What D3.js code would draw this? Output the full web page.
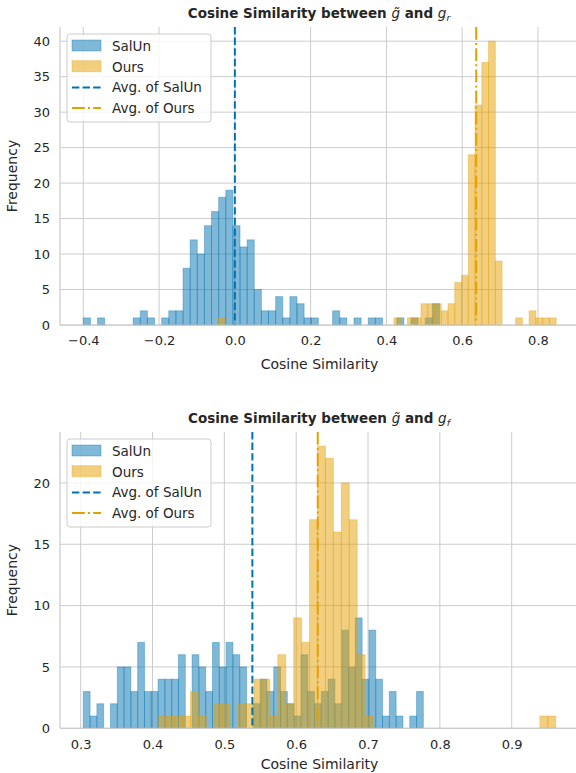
<!DOCTYPE html>
<meta charset="utf-8">
<script src="https://d3js.org/d3.v7.min.js"></script>
<style>
  body { margin: 0; background: #fff; }
  text { font-family: "DejaVu Sans", sans-serif; fill: #262626; }
</style>
<div id="chart"></div>
<script>

// ---- data ----
// histogram counts, 50 equal bins over each series' own range
var topSalunRange = [-0.400, 0.540];
var topSalunCounts = [1,0,1,0,0,0,0,1,2,1, 0,1,2,2,8,12,10,14,16,18, 19,14,11,12,5,2,2,4,1,4, 3,1,1,0,0,2,1,0,1,0, 1,1,0,0,1,0,1,0,1,3];
var topOursRange = [-0.044, 0.848];
var topOursCounts = [1,0,0,0,0,0,0,0,0,0, 0,0,0,0,0,0,0,0,0,0, 0,0,0,0,0,0,1,0,1,1, 3,3,3,2,3,6,7,24,31,37, 40,9,0,0,1,0,2,1,1,1];
var topMeans = [0.000, 0.637];

var botSalunRange = [0.3036, 0.777];
var botSalunCounts = [3,1,2,0,2,5,5,3,7,3, 3,4,4,4,6,0,6,5,3,7, 5,7,6,5,0,2,4,3,5,3, 2,1,6,3,2,3,4,2,8,5, 9,4,8,4,1,3,1,0,1,3];
var botOursRange = [0.4086, 0.9613];
var botOursCounts = [1,1,1,1,3,1,0,2,2,0, 2,2,4,4,1,6,2,9,7,17, 23,22,16,20,17,6,1,0,0,0, 0,0,0,0,0,0,0,0,0,0, 0,0,0,0,0,0,0,0,1,1];
var botMeans = [0.539, 0.630];

var topXTicks = [-0.4, -0.2, 0.0, 0.2, 0.4, 0.6, 0.8];
var topYTicks = [0, 5, 10, 15, 20, 25, 30, 35, 40];
var botXTicks = [0.3, 0.4, 0.5, 0.6, 0.7, 0.8, 0.9];
var botYTicks = [0, 5, 10, 15, 20];

var seriesNames = ["SalUn", "Ours"];
var blue = "#0173b2", orange = "#e69f00";

// ---- drawing ----
var W = 576, H = 773;
var svg = d3.select("#chart").append("svg")
    .attr("width", W).attr("height", H);

function bins(range, counts) {
    var n = counts.length, step = (range[1] - range[0]) / n;
    return counts.map(function(c, i) {
        return {x0: range[0] + i * step, x1: range[0] + (i + 1) * step, n: c};
    });
}

function panel(opt) {
    var g = svg.append("g");
    var x = d3.scaleLinear().domain(opt.xDomain).range([opt.left, opt.right]);
    var y = d3.scaleLinear().domain(opt.yDomain).range([opt.bottom, opt.top]);

    // grid
    g.selectAll(".vg").data(opt.xTicks).enter().append("line")
        .attr("x1", function(d) { return x(d); }).attr("x2", function(d) { return x(d); })
        .attr("y1", opt.top).attr("y2", opt.bottom)
        .attr("stroke", "#cccccc").attr("stroke-width", 1);
    g.selectAll(".hg").data(opt.yTicks).enter().append("line")
        .attr("x1", opt.left).attr("x2", opt.right)
        .attr("y1", function(d) { return y(d); }).attr("y2", function(d) { return y(d); })
        .attr("stroke", "#cccccc").attr("stroke-width", 1);

    // bars
    [[opt.salun, blue], [opt.ours, orange]].forEach(function(s) {
        g.append("g").selectAll("rect").data(s[0].filter(function(b) { return b.n > 0; }))
            .enter().append("rect")
            .attr("x", function(b) { return x(b.x0); })
            .attr("width", function(b) { return x(b.x1) - x(b.x0); })
            .attr("y", function(b) { return y(b.n); })
            .attr("height", function(b) { return y(0) - y(b.n); })
            .attr("fill", s[1]).attr("fill-opacity", 0.5)
            .attr("stroke", s[1]).attr("stroke-opacity", 0.35).attr("stroke-width", 1);
    });

    // mean lines
    g.append("line").attr("x1", x(opt.means[0])).attr("x2", x(opt.means[0]))
        .attr("y1", opt.top).attr("y2", opt.bottom)
        .attr("stroke", blue).attr("stroke-width", 2).attr("stroke-dasharray", "7.4,3.2");
    g.append("line").attr("x1", x(opt.means[1])).attr("x2", x(opt.means[1]))
        .attr("y1", opt.top).attr("y2", opt.bottom)
        .attr("stroke", orange).attr("stroke-width", 2).attr("stroke-dasharray", "12.8,3.2,2,3.2");

    // spines
    g.append("line").attr("x1", opt.left).attr("x2", opt.left).attr("y1", opt.top).attr("y2", opt.bottom)
        .attr("stroke", "#cccccc").attr("stroke-width", 1.25);
    g.append("line").attr("x1", opt.left).attr("x2", opt.right).attr("y1", opt.bottom).attr("y2", opt.bottom)
        .attr("stroke", "#cccccc").attr("stroke-width", 1.25);

    // axes
    var xa = g.append("g").attr("transform", "translate(0," + opt.bottom + ")")
        .call(d3.axisBottom(x).tickValues(opt.xTicks).tickFormat(d3.format(".1f")).tickSize(0).tickPadding(11));
    var ya = g.append("g").attr("transform", "translate(" + opt.left + ",0)")
        .call(d3.axisLeft(y).tickValues(opt.yTicks).tickSize(0).tickPadding(10));
    [xa, ya].forEach(function(a) {
        a.select(".domain").remove();
        a.selectAll("text").attr("font-size", 13).attr("fill", "#262626")
            .attr("font-family", "DejaVu Sans");
    });

    // labels
    g.append("text").attr("x", (opt.left + 579) / 2).attr("y", opt.bottom + opt.xlabOff)
        .attr("text-anchor", "middle").attr("font-size", 14).text("Cosine Similarity");
    g.append("text").attr("transform", "translate(17," + (opt.top + opt.bottom) / 2 + ") rotate(-90)")
        .attr("text-anchor", "middle").attr("font-size", 14).text("Frequency");

    var t = g.append("text").attr("x", 319).attr("y", opt.top - 9)
        .attr("text-anchor", "middle").attr("font-size", 13.5).attr("font-weight", "bold");
    t.append("tspan").text("Cosine Similarity between ");
    t.append("tspan").attr("font-style", "italic").attr("font-weight", "normal").text("g\u0303");
    t.append("tspan").text(" and ");
    t.append("tspan").attr("font-style", "italic").attr("font-weight", "normal").text("g");
    t.append("tspan").attr("font-style", "italic").attr("font-weight", "normal")
        .attr("font-size", 9.5).attr("dy", 3).text(opt.sub);

    // legend
    var lg = g.append("g").attr("transform", "translate(67," + (opt.top + 7) + ")");
    lg.append("rect").attr("width", 144).attr("height", 88).attr("rx", 3)
        .attr("fill", "#fff").attr("fill-opacity", 0.8).attr("stroke", "#cccccc");
    var rows = [
        {label: seriesNames[0], c: blue, kind: "patch"},
        {label: seriesNames[1], c: orange, kind: "patch"},
        {label: "Avg. of " + seriesNames[0], c: blue, kind: "dash"},
        {label: "Avg. of " + seriesNames[1], c: orange, kind: "dashdot"}
    ];
    rows.forEach(function(r, i) {
        var cy = 12 + i * 20.7;
        if (r.kind === "patch") {
            lg.append("rect").attr("x", 5).attr("y", cy - 6).attr("width", 29).attr("height", 11)
                .attr("fill", r.c).attr("fill-opacity", 0.5)
                .attr("stroke", r.c).attr("stroke-opacity", 0.35);
        } else {
            lg.append("line").attr("x1", 5).attr("x2", 34).attr("y1", cy).attr("y2", cy)
                .attr("stroke", r.c).attr("stroke-width", 2)
                .attr("stroke-dasharray", r.kind === "dash" ? "7.4,3.2" : "12.8,3.2,2,3.2");
        }
        lg.append("text").attr("x", 45).attr("y", cy + 5).attr("font-size", 13.5).text(r.label);
    });
}

panel({
    left: 60, right: 579, top: 27, bottom: 325,
    xDomain: [-0.4615, 0.9083], yDomain: [0, 42],
    xTicks: topXTicks, yTicks: topYTicks,
    salun: bins(topSalunRange, topSalunCounts), ours: bins(topOursRange, topOursCounts),
    means: topMeans, sub: "r", xlabOff: 44
});
panel({
    left: 60, right: 579, top: 432, bottom: 728.3,
    xDomain: [0.2712, 0.9937], yDomain: [0, 24.15],
    xTicks: botXTicks, yTicks: botYTicks,
    salun: bins(botSalunRange, botSalunCounts), ours: bins(botOursRange, botOursCounts),
    means: botMeans, sub: "f", xlabOff: 41
});
</script>
